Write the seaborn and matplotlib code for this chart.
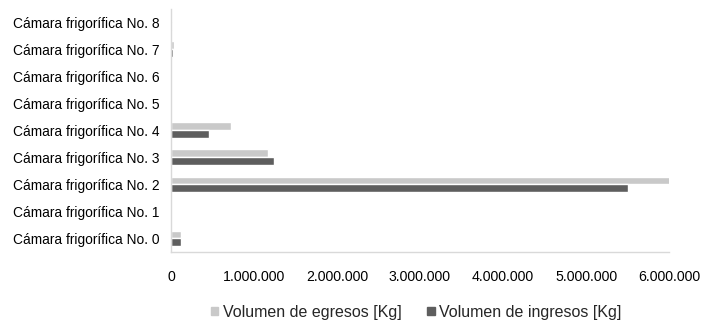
import matplotlib
matplotlib.use('Agg')
from matplotlib import pyplot as plt
from matplotlib.ticker import FuncFormatter
from matplotlib.patches import Patch
import pandas as pd
import seaborn as sns

camaras = ['Cámara frigorífica No. 8', 'Cámara frigorífica No. 7',
           'Cámara frigorífica No. 6', 'Cámara frigorífica No. 5',
           'Cámara frigorífica No. 4', 'Cámara frigorífica No. 3',
           'Cámara frigorífica No. 2', 'Cámara frigorífica No. 1',
           'Cámara frigorífica No. 0']
egresos = [5000, 40000, 0, 0, 720000, 1170000, 6020000, 0, 125000]
ingresos = [15000, 28000, 0, 0, 460000, 1240000, 5500000, 0, 125000]
series = ['Volumen de egresos [Kg]', 'Volumen de ingresos [Kg]']
x_ticks = [0, 1000000, 2000000, 3000000, 4000000, 5000000, 6000000]

df = pd.DataFrame({
    'camara': camaras * 2,
    'valor': egresos + ingresos,
    'serie': [series[0]] * len(camaras) + [series[1]] * len(camaras),
})

sns.set_style('white')
plt.rcParams['font.family'] = ['Liberation Sans', 'DejaVu Sans']
colores = ['#c9c9c9', '#5e5e5e']

f = plt.figure(figsize=(7.13, 3.31), dpi=100)
ax = f.add_axes([0.2398, 0.2393, 0.6985, 0.735])
sns.barplot(data=df, x='valor', y='camara', hue='serie', order=camaras,
            hue_order=series, palette=colores, orient='h', width=0.57,
            saturation=1, legend=False, ax=ax)

ax.set_xlim(0, 6000000)
ax.set_ylim(len(camaras) - 0.5, -0.5)
ax.set_xticks(x_ticks)
ax.xaxis.set_major_formatter(FuncFormatter(lambda v, p: f'{int(v):,}'.replace(',', '.')))
ax.tick_params(axis='x', length=0, pad=13, labelsize=10.2, colors='#000000')
ax.tick_params(axis='y', length=0, pad=8, labelsize=9.9, colors='#000000')
ax.set_xlabel('')
ax.set_ylabel('')
for s in ['top', 'right']:
    ax.spines[s].set_visible(False)
for s in ['left', 'bottom']:
    ax.spines[s].set_color('#d9d9d9')
    ax.spines[s].set_linewidth(1)

handles = [Patch(color=c, label=s) for c, s in zip(colores, series)]
f.legend(handles=handles, loc='center', bbox_to_anchor=(0.584, 0.057), ncol=2,
         frameon=False, fontsize=11.5, handlelength=0.45, handleheight=0.45,
         handletextpad=0.3, columnspacing=1.6)

f.savefig('out.png', dpi=100)
